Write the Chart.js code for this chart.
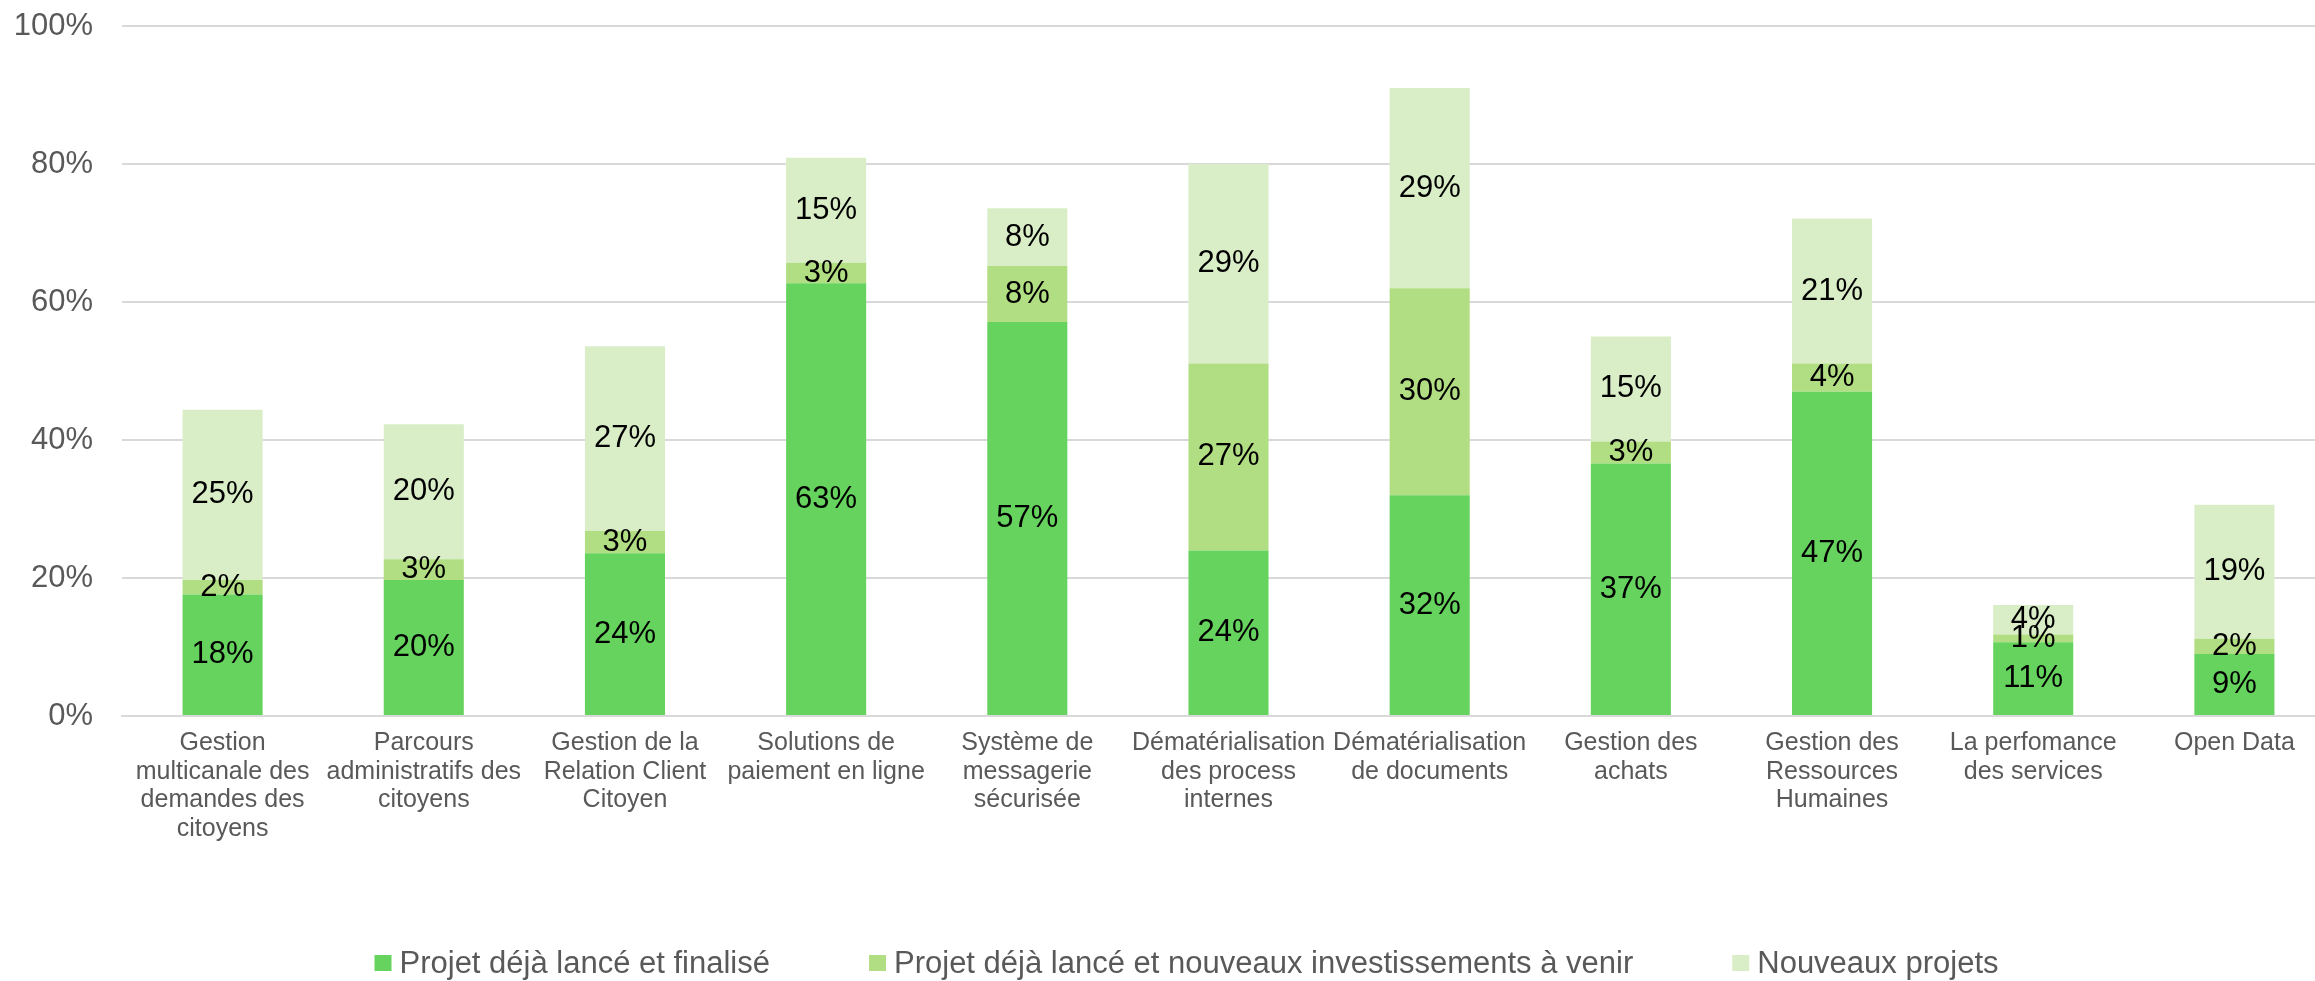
<!DOCTYPE html>
<html>
<head>
<meta charset="utf-8">
<script src="https://cdn.jsdelivr.net/npm/chart.js@4/dist/chart.umd.min.js"></script>
<style>
  html, body { margin: 0; padding: 0; background: #fff; overflow: hidden; }
  #wrap { width: 2345px; height: 981px; }
</style>
</head>
<body>
<div id="wrap"><canvas id="myChart"></canvas></div>
<script>
const categories = [
  ['Gestion', 'multicanale des', 'demandes des', 'citoyens'],
  ['Parcours', 'administratifs des', 'citoyens'],
  ['Gestion de la', 'Relation Client', 'Citoyen'],
  ['Solutions de', 'paiement en ligne'],
  ['Système de', 'messagerie', 'sécurisée'],
  ['Dématérialisation', 'des process', 'internes'],
  ['Dématérialisation', 'de documents'],
  ['Gestion des', 'achats'],
  ['Gestion des', 'Ressources', 'Humaines'],
  ['La perfomance', 'des services'],
  ['Open Data']
];
const seriesNames = [
  'Projet déjà lancé et finalisé',
  'Projet déjà lancé et nouveaux investissements à venir',
  'Nouveaux projets'
];
const finalise = [17.6, 19.7, 23.6, 62.7, 57.1, 24.0, 32.0, 36.6, 47.0, 10.7, 9.0];
const aVenir   = [2.1, 3.0, 3.2, 3.0, 8.1, 27.1, 30.0, 3.2, 4.1, 1.1, 2.2];
const nouveaux = [24.7, 19.6, 26.8, 15.2, 8.4, 28.9, 29.0, 15.2, 21.0, 4.3, 19.4];
const yTicks = [0, 20, 40, 60, 80, 100];

const colors = ['#66d35e', '#b1de82', '#d9eec6'];
const fontFam = '"Liberation Sans", Arial, sans-serif';

// labels centred in each segment
const barLabels = {
  id: 'barLabels',
  afterDatasetsDraw(chart) {
    const ctx = chart.ctx;
    ctx.save();
    ctx.font = '31px ' + fontFam;
    ctx.fillStyle = '#000';
    ctx.textAlign = 'center';
    ctx.textBaseline = 'middle';
    chart.data.datasets.forEach((ds, i) => {
      chart.getDatasetMeta(i).data.forEach((bar, j) => {
        const v = ds.data[j];
        ctx.fillText(Math.round(v) + '%', bar.x, (bar.y + bar.base) / 2);
      });
    });
    ctx.restore();
  }
};

// legend drawn at the bottom, spaced like the original
const bottomLegend = {
  id: 'bottomLegend',
  afterDraw(chart) {
    const ctx = chart.ctx;
    ctx.save();
    ctx.font = '31px ' + fontFam;
    const boxW = 17, boxH = 16, gap = 8, spacing = 99;
    const widths = seriesNames.map(n => ctx.measureText(n).width);
    let total = widths.reduce((a, b) => a + b, 0) + seriesNames.length * (boxW + gap) + spacing * (seriesNames.length - 1);
    let x = chart.width / 2 + 14 - total / 2;
    const y = chart.height - 18;
    ctx.textBaseline = 'middle';
    ctx.textAlign = 'left';
    seriesNames.forEach((n, i) => {
      ctx.fillStyle = colors[i];
      ctx.fillRect(x, y - boxH / 2, boxW, boxH);
      ctx.fillStyle = '#595959';
      ctx.fillText(n, x + boxW + gap, y + 1);
      x += boxW + gap + widths[i] + spacing;
    });
    ctx.restore();
  }
};

const ctx = document.getElementById('myChart');

const chart = new Chart(ctx, {
  type: 'bar',
  data: {
    labels: categories,
    datasets: [
      { label: seriesNames[0], data: finalise, backgroundColor: colors[0] },
      { label: seriesNames[1], data: aVenir, backgroundColor: colors[1] },
      { label: seriesNames[2], data: nouveaux, backgroundColor: colors[2] }
    ]
  },
  options: {
    responsive: true,
    maintainAspectRatio: false,
    animation: false,
    layout: { padding: { left: 15, right: 10, top: 0, bottom: 125 } },
    datasets: {
      bar: { categoryPercentage: 1, barPercentage: 0.398, borderWidth: 0 }
    },
    plugins: {
      legend: { display: false },
      tooltip: { enabled: false }
    },
    scales: {
      x: {
        stacked: true,
        grid: { display: false, drawTicks: false },
        border: { color: '#d9d9d9', width: 2 },
        ticks: {
          color: '#595959',
          padding: 13,
          maxRotation: 0,
          autoSkip: false,
          font: { family: fontFam, size: 25, lineHeight: 1.14 }
        }
      },
      y: {
        stacked: true,
        min: 0,
        max: 100,
        afterBuildTicks(axis) { axis.ticks = yTicks.map(v => ({ value: v })); },
        afterFit(axis) {
          axis.width = 107;
          axis.paddingTop = 26;
          axis.paddingBottom = 0;
        },
        grid: { color: '#d9d9d9', lineWidth: 2, drawTicks: false },
        border: { display: false },
        ticks: {
          color: '#595959',
          padding: 29,
          font: { family: fontFam, size: 31 },
          callback: v => v + '%'
        }
      }
    }
  },
  plugins: [barLabels, bottomLegend]
});
</script>
</body>
</html>
